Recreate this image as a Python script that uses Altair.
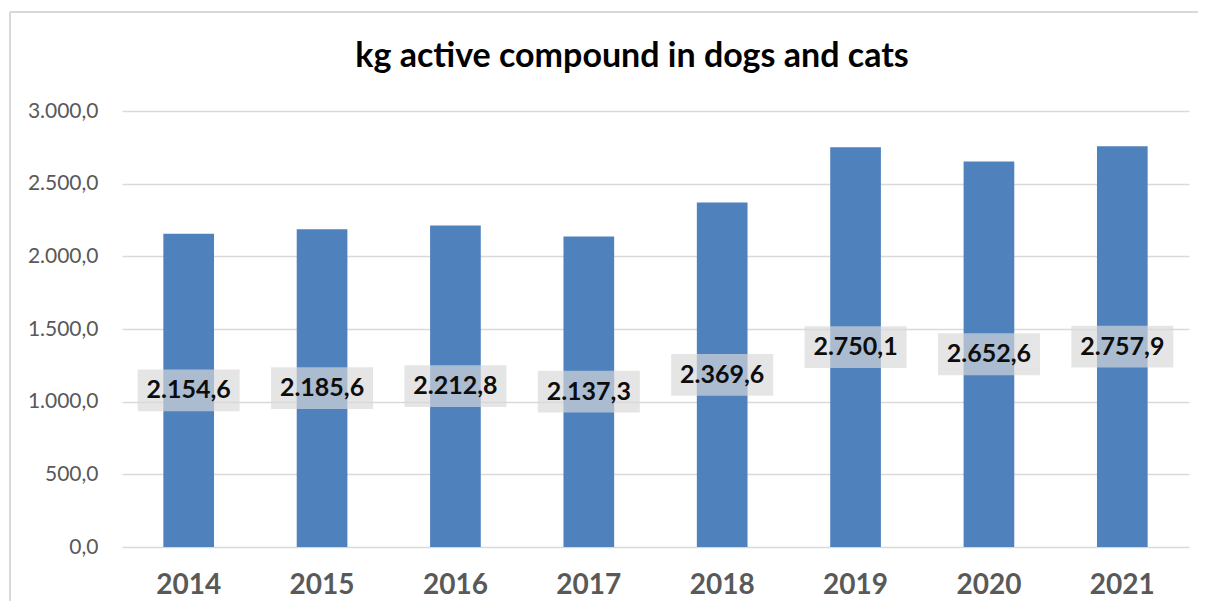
import altair as alt
import pandas as pd

years = ["2014", "2015", "2016", "2017", "2018", "2019", "2020", "2021"]
values = [2154.6, 2185.6, 2212.8, 2137.3, 2369.6, 2750.1, 2652.6, 2757.9]
title_text = ["kg active compound in dogs and cats"]


def eu(v):
    return f"{v:,.1f}".replace(",", "#").replace(".", ",").replace("#", ".")


labels = [eu(v) for v in values]

df = pd.DataFrame({"year": years, "value": values, "label": labels})
df["mid"] = df["value"] / 2
tdf = pd.DataFrame({"t": title_text})

FONT = "Lato"

x = alt.X("year:N", title=None, sort=years,
          scale=alt.Scale(paddingInner=0.62, paddingOuter=0.31),
          axis=alt.Axis(labelAngle=0, labelFontSize=28, labelFontWeight="bold",
                        labelColor="#595959", labelFont=FONT, domain=False,
                        ticks=False, labelPadding=24))

bars = alt.Chart(df).mark_bar(color="#4f81bd").encode(
    x=x,
    y=alt.Y("value:Q", title=None,
            scale=alt.Scale(domain=[0, 3000]),
            axis=alt.Axis(values=[0, 500, 1000, 1500, 2000, 2500, 3000],
                          labelExpr="replace(replace(replace(format(datum.value, ',.1f'), ',', '#'), '.', ','), '#', '.')",
                          labelFontSize=21, labelColor="#595959", labelFont=FONT,
                          domain=False, ticks=False, labelPadding=24,
                          gridColor="#d9d9d9", gridWidth=1.5)),
)

boxes = alt.Chart(df).mark_point(
    shape="M-1,-0.41L1,-0.41L1,0.41L-1,0.41Z", filled=True,
    color="#d9d9d9", opacity=0.68, size=10404,
).encode(x=alt.X("year:N", sort=years), y=alt.Y("mid:Q"))

texts = alt.Chart(df).mark_text(
    font=FONT, fontSize=25, fontWeight="bold", color="#0d0d0d", baseline="middle"
).encode(x=alt.X("year:N", sort=years), y=alt.Y("mid:Q"), text="label:N")

top_line = alt.Chart(tdf).mark_rule(color="#d9d9d9", strokeWidth=2).encode(
    x=alt.value(-112), x2=alt.value(1090), y=alt.value(-99))
left_line = alt.Chart(tdf).mark_rule(color="#d9d9d9", strokeWidth=2).encode(
    x=alt.value(-112), y=alt.value(-99), y2=alt.value(600))

title = alt.Chart(tdf).mark_text(
    font=FONT, fontSize=34, fontWeight="bold", color="#000000",
    align="center", baseline="middle"
).encode(x=alt.value(510), y=alt.value(-54), text="t:N")

chart = alt.layer(top_line, left_line, bars, boxes, texts, title).properties(
    width=1067, height=436,
    autosize=alt.AutoSizeParams(type="none"),
    padding={"left": 114, "top": 103, "right": 9, "bottom": 54},
).configure_view(stroke=None)

chart.save("out.html", embed_options={"renderer": "svg", "actions": False})
